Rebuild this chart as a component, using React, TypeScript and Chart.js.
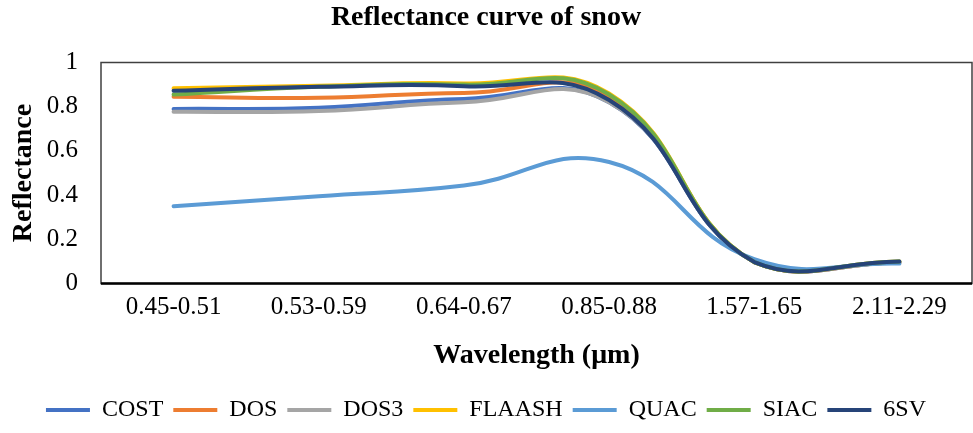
import React, { useEffect, useRef } from 'react';
import { Chart, registerables } from 'chart.js';

Chart.register(...registerables);

const categories = ['0.45-0.51', '0.53-0.59', '0.64-0.67', '0.85-0.88', '1.57-1.65', '2.11-2.29'];

const cost = [0.79, 0.795, 0.835, 0.82, 0.097, 0.095];
const dos = [0.845, 0.84, 0.862, 0.845, 0.097, 0.095];
const dos3 = [0.777, 0.78, 0.82, 0.82, 0.097, 0.095];
const flaash = [0.883, 0.895, 0.905, 0.86, 0.097, 0.1];
const quac = [0.35, 0.395, 0.443, 0.55, 0.11, 0.09];
const siac = [0.855, 0.89, 0.9, 0.855, 0.097, 0.1];
const sixsv = [0.872, 0.89, 0.893, 0.83, 0.097, 0.1];

const seriesNames = ['COST', 'DOS', 'DOS3', 'FLAASH', 'QUAC', 'SIAC', '6SV'];
const seriesValues = [cost, dos, dos3, flaash, quac, siac, sixsv];
const seriesColors = ['#4472C4', '#ED7D31', '#A5A5A5', '#FFC000', '#5B9BD5', '#70AD47', '#264478'];

const yTicks = [0, 0.2, 0.4, 0.6, 0.8, 1];
const yTickLabels = ['0', '0.2', '0.4', '0.6', '0.8', '1'];

const titleText = 'Reflectance curve of snow';
const xTitle = 'Wavelength (\u03bcm)';
const yTitle = 'Reflectance';

const FONT = '"Liberation Serif", "Times New Roman", serif';

const plotBorder = {
  id: 'plotBorder',
  beforeDatasetsDraw(chart: any) {
    const { ctx, chartArea } = chart;
    const { left, top, right, bottom } = chartArea;
    ctx.save();
    ctx.strokeStyle = '#404040';
    ctx.lineWidth = 1.5;
    ctx.strokeRect(left, top, right - left, bottom - top);
    ctx.strokeStyle = '#000000';
    ctx.lineWidth = 2.5;
    ctx.beginPath();
    ctx.moveTo(left, bottom);
    ctx.lineTo(right, bottom);
    ctx.stroke();
    ctx.restore();
  },
};

export default function App() {
  const canvasRef = useRef<HTMLCanvasElement | null>(null);

  useEffect(() => {
    if (!canvasRef.current) return;
    const datasets = seriesNames.map((name, i) => ({
      label: name,
      data: seriesValues[i],
      borderColor: seriesColors[i],
      backgroundColor: seriesColors[i],
      borderWidth: 4,
      pointRadius: 0,
      pointHoverRadius: 0,
      tension: 0.45,
      borderCapStyle: 'round' as const,
      borderJoinStyle: 'round' as const,
      fill: false,
      order: seriesNames.length - i,
    }));

    const chart = new Chart(canvasRef.current, {
      type: 'line',
      data: { labels: categories, datasets },
      plugins: [plotBorder],
      options: {
        animation: false,
        responsive: true,
        maintainAspectRatio: false,
        events: [],
        layout: { padding: { left: 0, right: 1, top: 0, bottom: 1 } },
        plugins: {
          title: {
            display: true,
            text: titleText,
            color: '#000',
            font: { family: FONT, size: 28, weight: 'bold' },
            padding: { top: 1.2, bottom: 27.7 },
          },
          legend: {
            display: true,
            position: 'bottom',
            labels: {
              color: '#000',
              font: { family: FONT, size: 24 },
              usePointStyle: true,
              pointStyle: 'line',
              pointStyleWidth: 44,
              padding: 10,
              sort: (a: any, b: any) => a.datasetIndex - b.datasetIndex,
            },
          },
          tooltip: { enabled: false },
        },
        scales: {
          x: {
            type: 'category',
            offset: true,
            grid: { display: false, drawTicks: false },
            border: { display: false },
            ticks: {
              color: '#000',
              font: { family: FONT, size: 25 },
              padding: 8.5,
              maxRotation: 0,
              autoSkip: false,
            },
            title: {
              display: true,
              text: xTitle,
              color: '#000',
              font: { family: FONT, size: 28, weight: 'bold' },
              padding: { top: 0, bottom: 15.2 },
            },
            afterFit: (scale: any) => {
              scale.height = 104.5;
            },
          },
          y: {
            min: 0,
            max: 1,
            grid: { display: false, drawTicks: false },
            border: { display: false },
            ticks: {
              color: '#000',
              font: { family: FONT, size: 25 },
              padding: 23,
              callback: (value: any) => {
                const idx = yTicks.indexOf(Number(value));
                return idx >= 0 ? yTickLabels[idx] : String(value);
              },
            },
            afterBuildTicks: (axis: any) => {
              axis.ticks = yTicks.map((v) => ({ value: v }));
            },
            title: {
              display: true,
              text: yTitle,
              color: '#000',
              font: { family: FONT, size: 28, weight: 'bold' },
              padding: { top: 7.2, bottom: 0 },
            },
            afterFit: (scale: any) => {
              scale.width = 101;
            },
          },
        },
      },
    });
    return () => chart.destroy();
  }, []);

  return (
    <div style={{ position: 'fixed', left: 0, top: 0, width: 973, height: 433, background: '#fff' }}>
      <canvas ref={canvasRef} />
    </div>
  );
}
